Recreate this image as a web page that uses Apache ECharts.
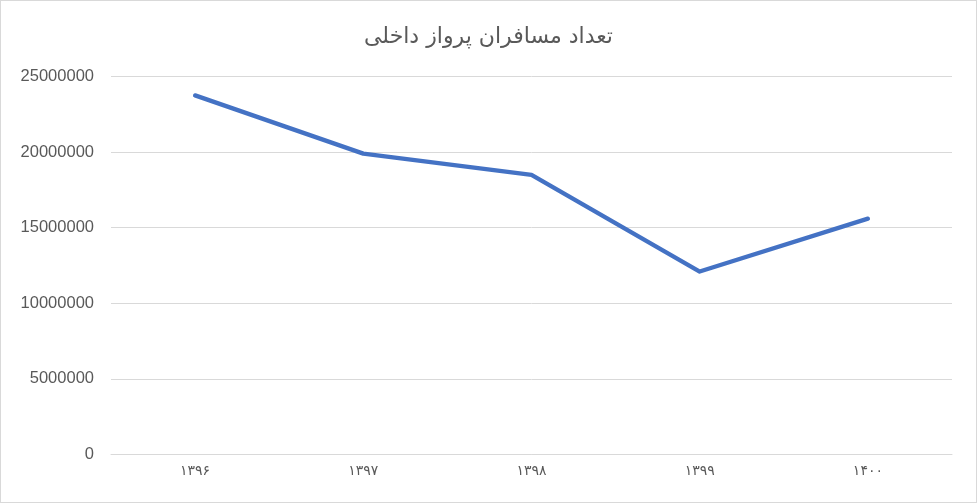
<!DOCTYPE html>
<html><head><meta charset="utf-8">
<script src="https://cdn.jsdelivr.net/npm/echarts@6/dist/echarts.min.js"></script>
<style>html,body{margin:0;padding:0;background:#fff}#c{width:977px;height:503px;box-sizing:border-box;border:1px solid #d9d9d9}</style>
</head><body><div id="c"></div>
<script>
const title = 'تعداد مسافران پرواز داخلی';
const categories = ['۱۳۹۶', '۱۳۹۷', '۱۳۹۸', '۱۳۹۹', '۱۴۰۰'];
const passengers = [23750000, 19900000, 18500000, 12100000, 15600000];
const yTicks = { min: 0, max: 25000000, interval: 5000000 };

const chart = echarts.init(document.getElementById('c'));
chart.setOption({
  animation: false,
  title: { text: title, left: 'center', top: 20, textStyle: { fontFamily: 'DejaVu Sans', fontSize: 22, fontWeight: 'normal', color: '#595959' } },
  grid: { left: 110, right: 24, top: 75.5, bottom: 47.5 },
  xAxis: {
    type: 'category', data: categories, boundaryGap: true,
    axisLine: { lineStyle: { color: '#d9d9d9', width: 1 } },
    axisTick: { show: false },
    axisLabel: { color: '#595959', fontSize: 14, margin: 10, fontFamily: 'DejaVu Sans' }
  },
  yAxis: {
    type: 'value', min: yTicks.min, max: yTicks.max, interval: yTicks.interval,
    axisLine: { show: false }, axisTick: { show: false },
    splitLine: { lineStyle: { color: '#d9d9d9', width: 1 } },
    axisLabel: { color: '#595959', fontSize: 16.5, margin: 17, fontFamily: 'Liberation Sans', formatter: v => String(v) }
  },
  series: [{
    type: 'line', data: passengers, symbol: 'none',
    lineStyle: { color: '#4472C4', width: 4.3, cap: 'round', join: 'round' }
  }]
});
</script></body></html>
